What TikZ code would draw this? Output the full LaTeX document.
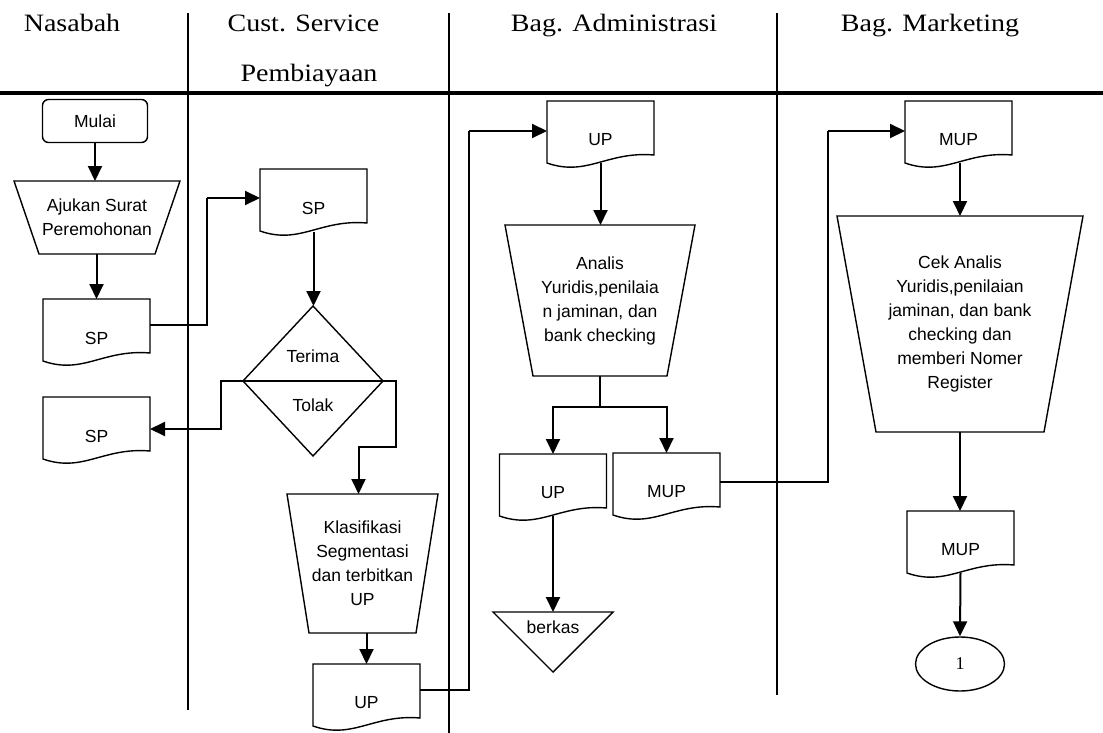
\documentclass[tikz,border=0pt]{standalone}
\usepackage{fontspec}
\setmainfont{Liberation Serif}
\newfontfamily\arialf{Liberation Sans}
\usetikzlibrary{arrows.meta,calc,shapes.geometric}

\tikzset{
  shapeline/.style={line width=1.4pt, line join=miter},
  conn/.style={line width=1.3pt},
  arr/.style={line width=2pt, -{Triangle[width=14pt,length=15pt]}},
  lane/.style={line width=1.5pt},
  head/.style={font=\fontsize{25}{30}\selectfont, inner sep=0pt, anchor=base, xscale=1.12},
  txt/.style={font=\arialf\fontsize{17.5}{24}\selectfont, align=center, inner sep=0pt},
  docbox/.style={txt, minimum width=107pt, minimum height=78pt, outer sep=0pt},
  procbox/.style={txt, outer sep=0pt, inner sep=0pt},
}

\newcommand\docnode[3]{%
  \node[docbox,anchor=north] (#1) at (#2) {#3};
  \draw[shapeline] (#1.north west) -- (#1.north east) -- ($(#1.north east)+(0,54)$)
    .. controls ($(#1.north west)+(60,50)$) and ($(#1.north west)+(40,76)$) .. ($(#1.north west)+(0,62)$) -- cycle;
}
\newcommand\trapnode[6]{%
  \node[procbox,minimum width=#3,minimum height=#4] (#1) at (#2) {#6};
  \draw[shapeline] (#1.north west) -- (#1.north east) -- ($(#1.south east)+(-#5,0)$) -- ($(#1.south west)+(#5,0)$) -- cycle;
}

\begin{document}
\begin{tikzpicture}[x=1pt,y=-1pt]
\useasboundingbox (0,0) rectangle (1103,733);

% headers
\node[head] (h1) at (72,31.5) {Nasabah};
\node[head] (h2) at (303.5,31.5) {Cust. Service};
\node[head] (h3) at (309,82) {Pembiayaan};
\node[head] (h4) at (614,31.5) {Bag. Administrasi};
\node[head] (h5) at (930,31.5) {Bag. Marketing};

\draw[lane] (188,13) -- (188,710);
\draw[lane] (449,13) -- (449,733);
\draw[lane] (777,13) -- (777,695);
\draw[line width=4pt] (0,93) -- (1103,93);

% Nasabah
\node[txt, draw, shapeline, rounded corners=6pt, minimum width=105pt, minimum height=43pt] (mulai) at (95,121) {Mulai};
\trapnode{aju}{97,217.5}{166pt}{73pt}{25}{Ajukan Surat\\Peremohonan}
\docnode{sp1}{96.5,299}{SP}
\docnode{sp2}{96.5,397}{SP}

% Cust service
\docnode{spcs}{313.5,169}{SP}
\node[minimum width=140pt, minimum height=150pt, inner sep=0pt, outer sep=0pt] (dia) at (313,381) {};
\draw[shapeline] (dia.north) -- (dia.east) -- (dia.south) -- (dia.west) -- cycle;
\draw[shapeline] (dia.west) -- (dia.east);
\node[txt] (terima) at (313,356) {Terima};
\node[txt] (tolak) at (313,405) {Tolak};
\trapnode{kl}{362.5,563.5}{151pt}{139pt}{22}{Klasifikasi\\Segmentasi\\dan terbitkan\\UP}
\docnode{up1}{366.5,664}{UP}

% Administrasi
\docnode{up2}{600.5,101}{UP}
\trapnode{an}{600,300.5}{190pt}{151pt}{28}{Analis\\Yuridis,penilaia\\n jaminan, dan\\bank checking}
\docnode{up3}{553,454}{UP}
\docnode{mup1}{666.5,453}{MUP}
\node[minimum width=120pt, minimum height=60pt, inner sep=0pt, outer sep=0pt] (bk) at (553,642) {};
\draw[shapeline] (bk.north west) -- (bk.north east) -- (bk.south) -- cycle;
\node[txt] (bktext) at (553,627) {berkas};

% Marketing
\docnode{mup2}{958.5,101}{MUP}
\trapnode{cek}{960,324}{246pt}{216pt}{39}{\fontsize{17.5}{20.5}\selectfont Cek Analis\\Yuridis,penilaian\\jaminan, dan bank\\checking dan\\memberi Nomer\\Register}
\docnode{mup3}{960.5,511}{MUP}
\node[draw, shapeline, ellipse, minimum width=89pt, minimum height=54pt, inner sep=0pt, font=\fontsize{18}{20}\selectfont] (one) at (960,664) {1};

% connectors
\draw[arr] (mulai.south) -- (mulai.south |- aju.north);
\draw[arr] (aju.south -| sp1.north) -- (sp1.north);
\coordinate (b1) at (207,198);
\draw[conn] ($(sp1.north east)+(0,26)$) -| (b1);
\draw[arr] (b1) -- (spcs.west |- b1);
\draw[arr] ($(spcs.north)+(0,63)$) -- (spcs.north |- dia.north);
\draw[arr] (dia.west) -- ++(-22,0) |- ($(sp2.north east)+(0,32)$);
\draw[arr] (dia.east) -- ++(13,0) -- ++(0,66) -| ($(kl.north)+(-4,0)$);
\draw[arr] (kl.south -| up1.north) -- (up1.north);
\coordinate (b2) at (469,131);
\draw[conn] ($(up1.north east)+(0,26)$) -| (b2);
\draw[arr] (b2) -- (up2.west |- b2);
\draw[arr] ($(up2.north)+(0,62)$) -- (up2.north |- an.north);
\coordinate (br) at (600,407);
\draw[conn] (an.south) -- (br);
\draw[arr] (br) -| (up3.north);
\draw[arr] (br) -| (mup1.north);
\draw[arr] ($(up3.north)+(0,62)$) -- (bk.north);
\coordinate (b3) at (828,131);
\draw[conn] ($(mup1.north east)+(0,29)$) -| (b3);
\draw[arr] (b3) -- (mup2.west |- b3);
\coordinate (m2b) at ($(mup2.north)+(1.5,62)$);
\draw[arr] (m2b) -- (m2b |- cek.north);
\draw[arr] (cek.south) -- (cek.south |- mup3.north);
\draw[arr] ($(mup3.north)+(0,62)$) -- (one.north);
\end{tikzpicture}
\end{document}
